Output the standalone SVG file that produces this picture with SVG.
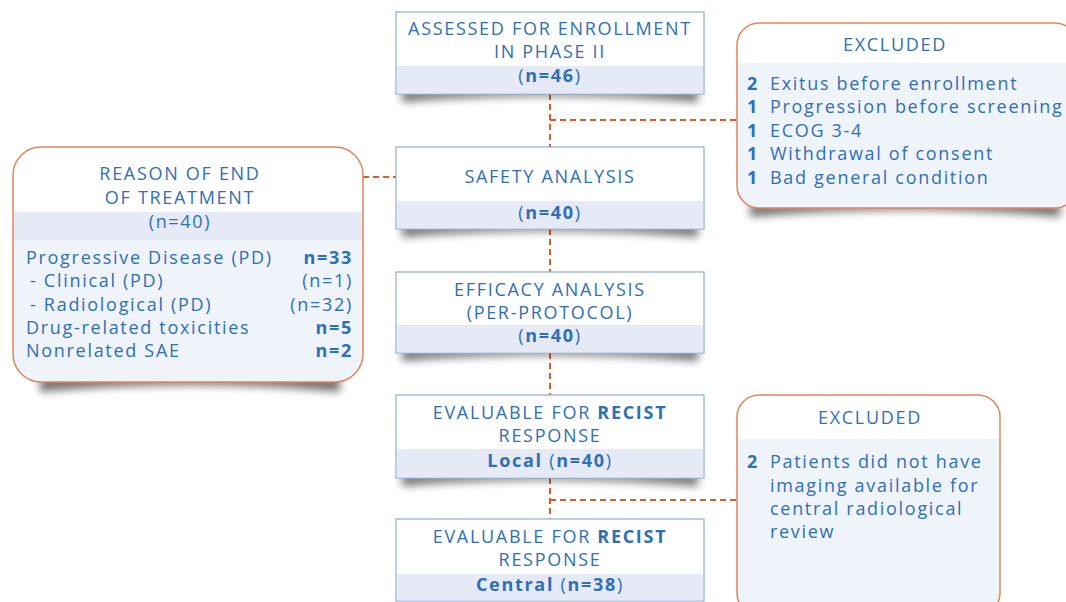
<svg xmlns="http://www.w3.org/2000/svg" width="1066" height="602" viewBox="0 0 1066 602">
<defs>
<style>
text{font-family:"Open Sans","Noto Sans","DejaVu Sans",sans-serif;font-size:18px;fill:#2f6fb6;letter-spacing:1.7px}
.c{text-anchor:middle}
.r{text-anchor:end}
.b{font-weight:bold}
.box{fill:#fff;stroke:#8eaed3;stroke-width:1.2}
.band{fill:#e5eaf6}
.rb{fill:none;stroke:#e2845a;stroke-width:1.5}
.light{fill:#eff3fa}
.sh{fill:#000;opacity:0.55;filter:url(#blur)}
.dash{fill:none;stroke:#e05a24;stroke-width:2;stroke-dasharray:6 4}
</style>
<filter id="blur" x="-10%" y="-100%" width="120%" height="300%"><feGaussianBlur stdDeviation="4"/></filter>
<clipPath id="cpE1"><rect x="737" y="23" width="340" height="185" rx="22"/></clipPath>
<clipPath id="cpR"><rect x="13" y="147" width="350" height="235" rx="28"/></clipPath>
<clipPath id="cpE2"><rect x="737" y="395" width="263" height="220" rx="22"/></clipPath>
</defs>

<g id="connectors">
<path class="dash" d="M550 94 V147"/>
<path class="dash" d="M550 120 H737"/>
<path class="dash" d="M363 177 H396"/>
<path class="dash" d="M550 229 V272"/>
<path class="dash" d="M550 353 V395"/>
<path class="dash" d="M550 478 V519"/>
<path class="dash" d="M550 500 H737"/>
</g>

<g id="assessed">
<path class="sh" d="M402 90 H698 V102 Q550 90 402 102 Z"/>
<rect class="box" x="396" y="12" width="308" height="82"/>
<rect class="band" x="397" y="66" width="306" height="27.4"/>
<text class="c" x="550" y="35">ASSESSED FOR ENROLLMENT</text>
<text class="c" x="550" y="58">IN PHASE II</text>
<text class="c" x="550" y="82">(<tspan class="b">n=46</tspan>)</text>
</g>

<g id="excluded1">
<path class="sh" d="M750 203 H1060 V217 Q905 203 750 217 Z"/>
<g clip-path="url(#cpE1)">
<rect x="737" y="23" width="340" height="185" fill="#fff"/>
<rect class="light" x="737" y="63" width="340" height="145"/>
</g>
<rect class="rb" x="737" y="23" width="340" height="185" rx="22"/>
<text class="c" x="895" y="51">EXCLUDED</text>
<text class="b" x="747" y="90">2</text><text x="770" y="90">Exitus before enrollment</text>
<text class="b" x="747" y="113">1</text><text x="770" y="113">Progression before screening</text>
<text class="b" x="747" y="137">1</text><text x="770" y="137">ECOG 3-4</text>
<text class="b" x="747" y="160">1</text><text x="770" y="160">Withdrawal of consent</text>
<text class="b" x="747" y="184">1</text><text x="770" y="184">Bad general condition</text>
</g>

<g id="reason">
<path class="sh" d="M40 376 H340 V392 Q190 378 40 392 Z"/>
<g clip-path="url(#cpR)">
<rect x="13" y="147" width="350" height="235" fill="#fff"/>
<rect class="band" x="13" y="212" width="350" height="28"/>
<rect class="light" x="13" y="240" width="350" height="142"/>
</g>
<rect class="rb" x="13" y="147" width="350" height="235" rx="28"/>
<text class="c" x="180" y="180">REASON OF END</text>
<text class="c" x="180" y="204">OF TREATMENT</text>
<text class="c" x="180" y="228">(n=40)</text>
<text x="26" y="264">Progressive Disease (PD)</text><text class="r b" x="353" y="264">n=33</text>
<text x="30" y="287">- Clinical (PD)</text><text class="r" x="353" y="287">(n=1)</text>
<text x="30" y="311">- Radiological (PD)</text><text class="r" x="353" y="311">(n=32)</text>
<text x="26" y="334">Drug-related toxicities</text><text class="r b" x="353" y="334">n=5</text>
<text x="26" y="357">Nonrelated SAE</text><text class="r b" x="353" y="357">n=2</text>
</g>

<g id="safety">
<path class="sh" d="M402 225 H698 V237 Q550 225 402 237 Z"/>
<rect class="box" x="396" y="147" width="308" height="82"/>
<rect class="band" x="397" y="201" width="306" height="27.4"/>
<text class="c" x="550" y="183">SAFETY ANALYSIS</text>
<text class="c" x="550" y="219">(<tspan class="b">n=40</tspan>)</text>
</g>

<g id="efficacy">
<path class="sh" d="M402 349 H698 V361 Q550 349 402 361 Z"/>
<rect class="box" x="396" y="272" width="308" height="81"/>
<rect class="band" x="397" y="325" width="306" height="27.4"/>
<text class="c" x="550" y="296">EFFICACY ANALYSIS</text>
<text class="c" x="550" y="319">(PER-PROTOCOL)</text>
<text class="c" x="550" y="342">(<tspan class="b">n=40</tspan>)</text>
</g>

<g id="local">
<path class="sh" d="M402 474 H698 V486 Q550 474 402 486 Z"/>
<rect class="box" x="396" y="395" width="308" height="83"/>
<rect class="band" x="397" y="449" width="306" height="28.4"/>
<text class="c" x="550" y="419">EVALUABLE FOR <tspan class="b">RECIST</tspan></text>
<text class="c" x="550" y="442">RESPONSE</text>
<text class="c" x="550" y="467"><tspan class="b">Local </tspan>(<tspan class="b">n=40</tspan>)</text>
</g>

<g id="central">
<rect class="box" x="396" y="519" width="308" height="82"/>
<rect class="band" x="397" y="574" width="306" height="26.4"/>
<text class="c" x="550" y="543">EVALUABLE FOR <tspan class="b">RECIST</tspan></text>
<text class="c" x="550" y="566">RESPONSE</text>
<text class="c" x="550" y="591"><tspan class="b">Central </tspan>(<tspan class="b">n=38</tspan>)</text>
</g>

<g id="excluded2">
<g clip-path="url(#cpE2)">
<rect x="737" y="395" width="263" height="220" fill="#fff"/>
<rect class="light" x="737" y="439" width="263" height="176"/>
</g>
<rect class="rb" x="737" y="395" width="263" height="220" rx="22"/>
<text class="c" x="870" y="424">EXCLUDED</text>
<text class="b" x="747" y="468">2</text><text x="770" y="468">Patients did not have</text>
<text x="770" y="492">imaging available for</text>
<text x="770" y="515">central radiological</text>
<text x="770" y="538">review</text>
</g>
</svg>
